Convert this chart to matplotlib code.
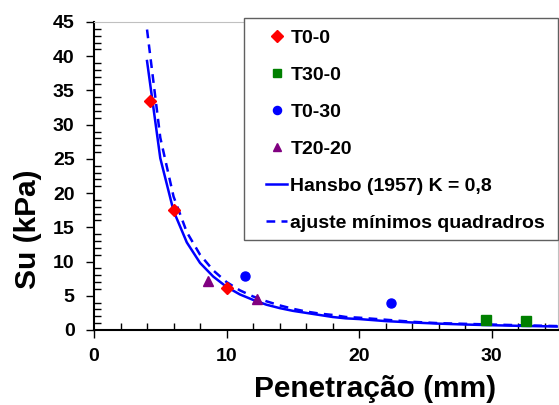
import matplotlib
matplotlib.use("Agg")
import matplotlib.pyplot as plt
from matplotlib.patches import Rectangle
from matplotlib.ticker import MultipleLocator

plt.rcParams["font.family"] = ["Liberation Sans", "DejaVu Sans"]
plt.rcParams["font.weight"] = "bold"

# pontos medidos
t00_x = [4.2, 6.0, 10.0]
t00_y = [33.5, 17.5, 6.1]
t300_x = [29.6, 32.6]
t300_y = [1.5, 1.3]
t030_x = [11.4, 22.4]
t030_y = [7.9, 3.9]
t2020_x = [8.6, 12.3]
t2020_y = [7.1, 4.5]

# curvas
h_curve = [4, 5, 6, 7, 8, 9, 10, 11, 12, 13, 14, 15, 16, 17, 18, 19, 20,
           22, 24, 26, 28, 30, 32, 35]
hansbo = [39.3, 25.1, 17.4, 12.8, 9.8, 7.8, 6.3, 5.2, 4.4, 3.7, 3.2, 2.8,
          2.5, 2.2, 1.9, 1.7, 1.6, 1.3, 1.1, 0.93, 0.8, 0.7, 0.61, 0.51]
ajuste = [43.9, 28.1, 19.5, 14.3, 11.0, 8.7, 7.0, 5.8, 4.9, 4.2, 3.6, 3.1,
          2.7, 2.4, 2.2, 1.9, 1.8, 1.5, 1.2, 1.0, 0.9, 0.8, 0.7, 0.57]

W, H = 559, 405
fig = plt.figure(figsize=(W / 100, H / 100), dpi=100)
ax = fig.add_axes([94 / W, 75 / H, 464 / W, 308 / H])

ax.plot(t00_x, t00_y, "D", color="red", ms=6.5, label="T0-0", zorder=4)
ax.plot(t300_x, t300_y, "s", color="green", ms=6.5, label="T30-0", zorder=4)
ax.plot(t030_x, t030_y, "o", color="blue", ms=6.5, label="T0-30", zorder=4)
ax.plot(t2020_x, t2020_y, "^", color="purple", ms=7, label="T20-20", zorder=4)
ax.plot(h_curve, hansbo, "-", color="blue", lw=1.8, label="Hansbo (1957) K = 0,8")
ax.plot(h_curve, ajuste, "--", color="blue", lw=1.8, dashes=(3.5, 2.5),
        label="ajuste mínimos quadradros")

ax.set_xlim(0, 35)
ax.set_ylim(0, 45)
ax.xaxis.set_major_locator(MultipleLocator(10))
ax.xaxis.set_minor_locator(MultipleLocator(2))
ax.yaxis.set_major_locator(MultipleLocator(5))
ax.yaxis.set_minor_locator(MultipleLocator(1))
ax.tick_params(which="major", direction="out", length=6, width=1, labelsize=14)
ax.tick_params(which="minor", direction="in", length=5, width=1)
ax.tick_params(axis="x", pad=7)
ax.tick_params(axis="y", pad=8)

for side in ["top", "right"]:
    ax.spines[side].set_color("#c0c0c0")
for side in ["left", "bottom"]:
    ax.spines[side].set_linewidth(1.5)

ax.set_xlabel("Penetração (mm)", fontsize=21.5, fontweight="bold",
              labelpad=7.5, x=0.606)
ax.set_ylabel("Su (kPa)", fontsize=21.5, fontweight="bold",
              labelpad=8, y=0.328)

# caixa da legenda
fig.add_artist(Rectangle((244 / W, 1 - 240 / H), 314 / W, 222 / H,
                         transform=fig.transFigure, facecolor="white",
                         edgecolor="#606060", lw=1, zorder=2))

handles, labels = ax.get_legend_handles_labels()
fig.legend(handles, labels, loc="upper left",
           bbox_to_anchor=(266 / W, 1 - 29 / H), borderaxespad=0,
           borderpad=0, frameon=False, markerscale=0.9, handlelength=1.1,
           handletextpad=0.15, labelspacing=1.0,
           prop={"weight": "bold", "size": 14})

fig.savefig("out.png", dpi=100)
